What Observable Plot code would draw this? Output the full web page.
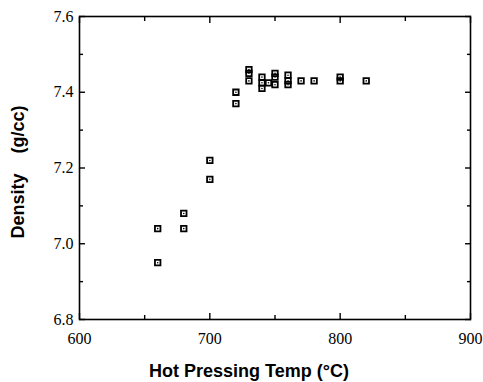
<!DOCTYPE html>
<html>
<head>
<meta charset="utf-8">
<script src="https://cdn.jsdelivr.net/npm/d3@7"></script>
<script src="https://cdn.jsdelivr.net/npm/@observablehq/plot@0.6"></script>
<style>
  html, body { margin: 0; padding: 0; background: #fff; }
  #chart svg { display: block; }
  #chart .axis-title text { white-space: pre; }
</style>
</head>
<body>
<div id="chart"></div>
<script>
const temps = [660, 660, 680, 680, 700, 700, 720, 720, 730, 730, 730, 740, 740, 740, 745, 750, 750, 750, 760, 760, 760, 770, 780, 800, 800, 820];
const densities = [7.04, 6.95, 7.08, 7.04, 7.22, 7.17, 7.40, 7.37, 7.46, 7.45, 7.43, 7.44, 7.425, 7.41, 7.425, 7.45, 7.44, 7.42, 7.445, 7.43, 7.42, 7.43, 7.43, 7.44, 7.43, 7.43];
const xMajor = [600, 700, 800, 900];
const xMinor = [650, 750, 850];
const yMajor = [6.8, 7.0, 7.2, 7.4, 7.6];
const yMinor = [6.9, 7.1, 7.3, 7.5];
const xTitle = "Hot Pressing Temp (°C)";
const yTitle = "Density    (g/cc)";

const data = temps.map((t, i) => ({temp: t, density: densities[i]}));
const noText = () => "";
const titleFont = {fontFamily: "'Liberation Sans', Arial, sans-serif", fontWeight: "bold", fontSize: 18, fill: "#000", className: "axis-title", textAnchor: "middle"};
const tickFont = {fontFamily: "'Liberation Serif', 'Times New Roman', serif", fontSize: 16, fill: "#000"};

const plot = Plot.plot({
  width: 483,
  height: 382,
  marginLeft: 79,
  marginRight: 13,
  marginTop: 16,
  marginBottom: 63,
  style: {fontSize: "16px", color: "#000", background: "#fff"},
  x: {domain: [600, 900]},
  y: {domain: [6.8, 7.6]},
  marks: [
    // tick labels
    Plot.axisX(xMajor, {anchor: "bottom", tickSize: 0, tickPadding: 13, tickFormat: d => String(d), label: null, ...tickFont}),
    Plot.axisY(yMajor, {anchor: "left", tickSize: 0, tickPadding: 6, tickFormat: d => d.toFixed(1), label: null, ...tickFont}),
    // axis titles
    Plot.text([xTitle], {text: d => d, frameAnchor: "bottom", dx: -26, dy: 57, ...titleFont}),
    Plot.text([yTitle], {text: d => d, frameAnchor: "left", rotate: -90, dx: -61, dy: 4, ...titleFont}),
    // inward ticks on all four sides
    Plot.axisX(xMajor, {anchor: "bottom", tickSize: -6, tickFormat: noText, label: null, strokeWidth: 1.4}),
    Plot.axisX(xMinor, {anchor: "bottom", tickSize: -4, tickFormat: noText, label: null, strokeWidth: 1.4}),
    Plot.axisX(xMajor, {anchor: "top", tickSize: -6, tickFormat: noText, label: null, strokeWidth: 1.4}),
    Plot.axisX(xMinor, {anchor: "top", tickSize: -4, tickFormat: noText, label: null, strokeWidth: 1.4}),
    Plot.axisY(yMajor, {anchor: "left", tickSize: -6, tickFormat: noText, label: null, strokeWidth: 1.4}),
    Plot.axisY(yMinor, {anchor: "left", tickSize: -4, tickFormat: noText, label: null, strokeWidth: 1.4}),
    Plot.axisY(yMajor, {anchor: "right", tickSize: -6, tickFormat: noText, label: null, strokeWidth: 1.4}),
    Plot.axisY(yMinor, {anchor: "right", tickSize: -4, tickFormat: noText, label: null, strokeWidth: 1.4}),
    Plot.frame({stroke: "#000", strokeWidth: 1.6}),
    Plot.dot(data, {x: "temp", y: "density", symbol: "square", r: 3.1, stroke: "#000", strokeWidth: 1.8, fill: "none"}),
    Plot.dot(data, {x: "temp", y: "density", r: 0.8, fill: "#000", stroke: "none"})
  ]
});
document.getElementById("chart").appendChild(plot);
</script>
</body>
</html>
